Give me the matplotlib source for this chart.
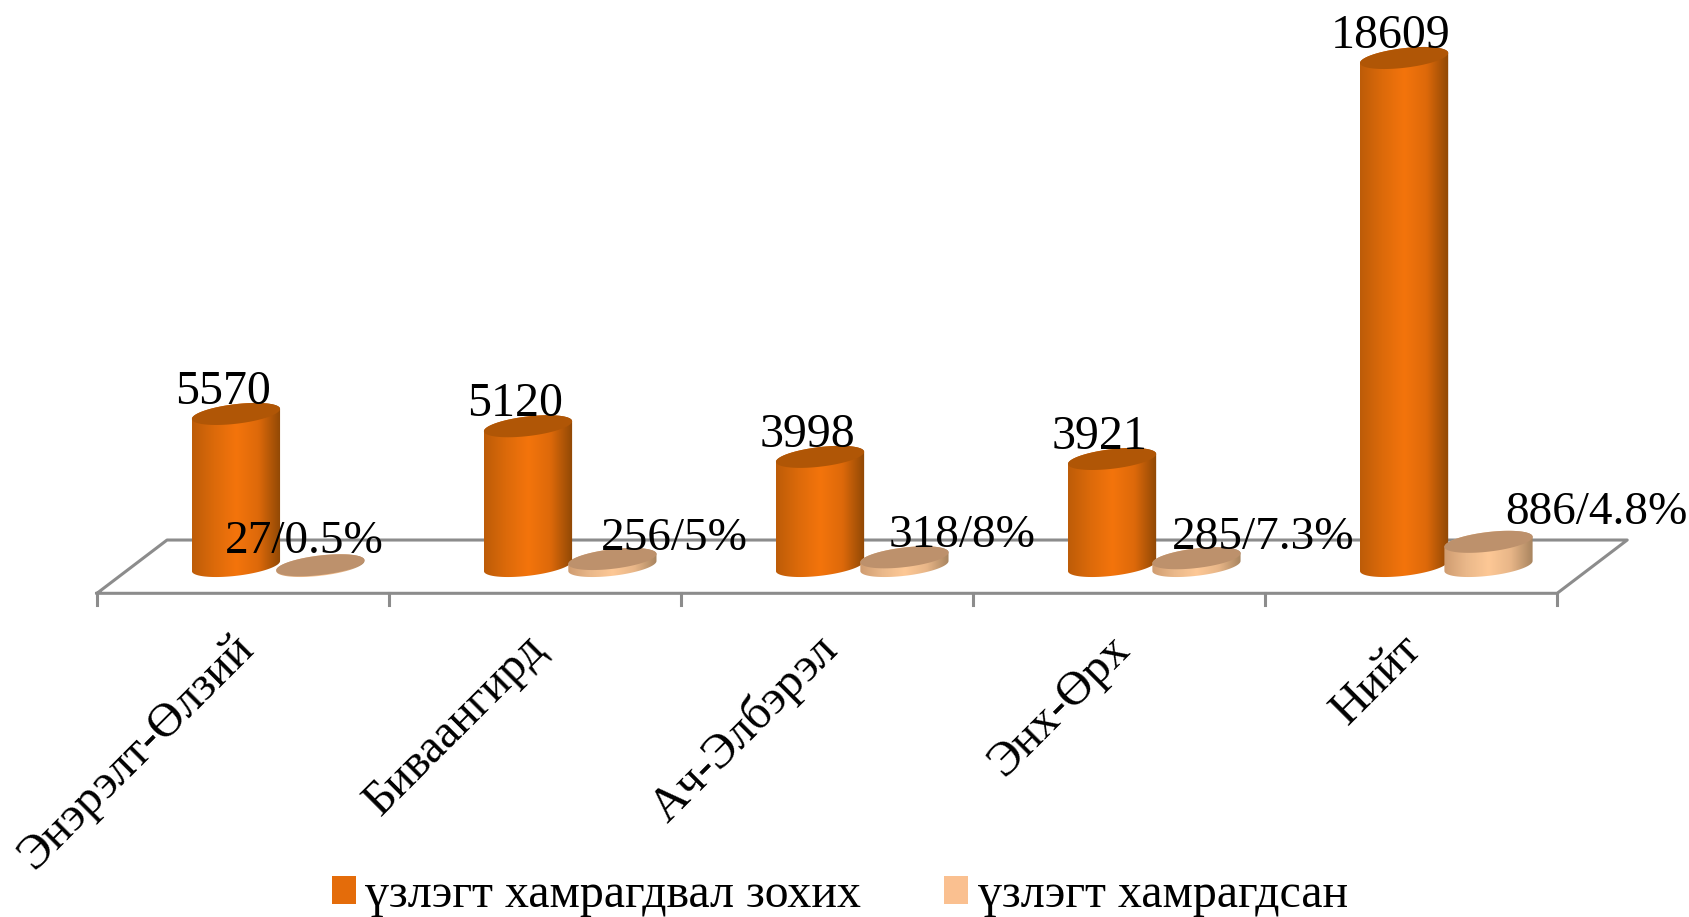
#!/usr/bin/python3

import numpy as np
import matplotlib.pyplot as plt
from matplotlib.colors import LinearSegmentedColormap
from matplotlib.patches import Patch, Polygon

SAVE_FILENAME = "out.png"

categories = ["Энэрэлт-Өлзий", "Биваангирд", "Ач-Элбэрэл", "Энх-Өрх", "Нийт"]
should_cover = [5570, 5120, 3998, 3921, 18609]
covered = [27, 256, 318, 285, 886]
covered_labels = ["27/0.5%", "256/5%", "318/8%", "285/7.3%", "886/4.8%"]
series_names = ["үзлэгт хамрагдвал зохих", "үзлэгт хамрагдсан"]

# sideways shift of the second series labels, pixels
covered_label_shift = [-16, 62, 58, 67, 108]
covered_label_rise = [12, 9, 10, 9, 18]

plt.rcParams["font.family"] = ["Liberation Serif", "DejaVu Serif"]
FONT_SIZE = 34.5
SMALL_SIZE = 34
GRAY = "#8c8c8c"

# cylinder shape in data units
RADIUS_X = 0.151
RADIUS_Y = 360
TILT = 183
ORANGE_OFFSET = -0.024
PEACH_OFFSET = 0.265

orange_map = LinearSegmentedColormap.from_list(
    "orange_body", [(0, "#bd5c08"), (0.25, "#dc6a0a"), (0.5, "#f4740c"), (0.75, "#dd690a"), (1, "#8f4805")])
peach_map = LinearSegmentedColormap.from_list(
    "peach_body", [(0, "#cf9c70"), (0.25, "#eab88a"), (0.5, "#fdc896"), (0.75, "#e8b688"), (1, "#a8845f")])


def cylinder(ax, center, value, body_map, cap_color):
    t = np.linspace(np.pi, 2 * np.pi, 60)
    low_x = center + RADIUS_X * np.cos(t)
    low_y = RADIUS_Y * np.sin(t) + TILT * np.cos(t)
    t = np.linspace(0, np.pi, 60)
    top_x = center + RADIUS_X * np.cos(t)
    top_y = value + RADIUS_Y * np.sin(t) + TILT * np.cos(t)

    outline = Polygon(np.column_stack([np.r_[low_x, top_x], np.r_[low_y, top_y]]),
                      closed=True, fc="none", ec="none", zorder=3)
    ax.add_patch(outline)
    img = ax.imshow(np.linspace(0, 1, 256)[None, :], cmap=body_map, aspect="auto",
                    interpolation="bilinear",
                    extent=[center - RADIUS_X, center + RADIUS_X, -2 * RADIUS_Y, value + 2 * RADIUS_Y],
                    zorder=3)
    img.set_clip_path(outline)

    t = np.linspace(0, 2 * np.pi, 120)
    cap = np.column_stack([center + RADIUS_X * np.cos(t),
                           value + RADIUS_Y * np.sin(t) + TILT * np.cos(t)])
    ax.add_patch(Polygon(cap, closed=True, fc=cap_color, ec="none", zorder=3))


fig = plt.figure(figsize=(16.9, 9.17), dpi=100)
ax = fig.add_axes([0, 0, 1, 1])

# floor of the 3D plot
front, back, depth = -1000, 952, 0.24
left, right = -0.5, len(categories) - 0.5
ax.plot([left, right, right + depth, left + depth, left],
        [front, front, back, back, front], color=GRAY, lw=2.2, zorder=1)
for i in range(len(categories) + 1):
    ax.plot([i - 0.5, i - 0.5], [front, front - 440], color=GRAY, lw=2.2, zorder=1)

for i in range(len(categories)):
    cylinder(ax, i + ORANGE_OFFSET, should_cover[i], orange_map, "#b05606")
    cylinder(ax, i + PEACH_OFFSET, covered[i], peach_map, "#bd916c")

    ax.annotate(str(should_cover[i]), (i + ORANGE_OFFSET, should_cover[i]), xytext=(-13, 10),
                textcoords="offset pixels", ha="center", va="baseline",
                fontsize=FONT_SIZE, zorder=5)
    ax.annotate(covered_labels[i], (i + PEACH_OFFSET, covered[i]),
                xytext=(covered_label_shift[i], covered_label_rise[i]),
                textcoords="offset pixels", ha="center", va="baseline",
                fontsize=SMALL_SIZE, zorder=5)
    ax.annotate(categories[i], (i, front), xytext=(-12, -33), textcoords="offset pixels",
                ha="right", va="top", rotation=45, rotation_mode="anchor", fontsize=FONT_SIZE)

ax.set_xlim(-0.832, 4.955)
ax.set_ylim(-12857, 20733)
ax.axis("off")

handles = [Patch(fc="#e46c0a", ec="none"), Patch(fc="#fac090", ec="none")]
ax.legend(handles, series_names, loc="lower center", bbox_to_anchor=(0.497, -0.047), ncol=2,
          frameon=False, fontsize=FONT_SIZE, handlelength=0.5, handleheight=0.5,
          handletextpad=0.2, columnspacing=1.73)

fig.savefig(SAVE_FILENAME, dpi=100)
